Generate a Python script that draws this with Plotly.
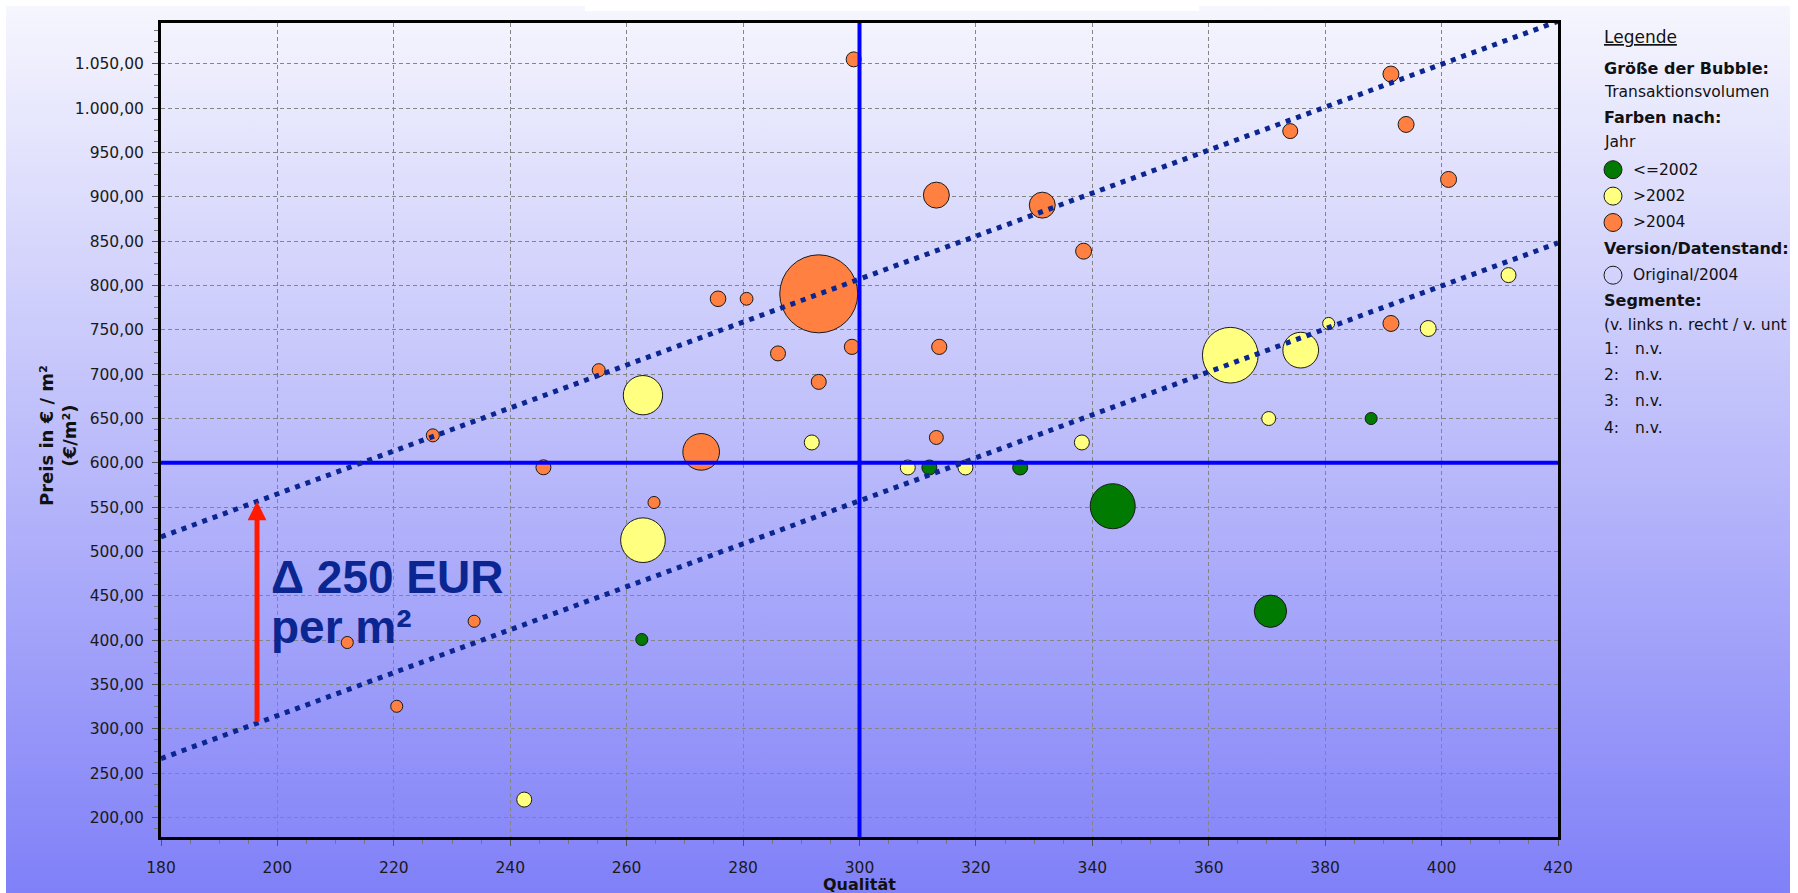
import base64
import plotly.graph_objects as go

# ---- Transaktionen: Qualität (Score), Preis (€/m²), Volumen (Mio. €) ----
# Baujahr-Klasse "<=2002"
green_q = [262.6, 312.0, 327.6, 343.5, 370.6, 387.9]
green_p = [400.8, 594.8, 594.8, 551.1, 432.7, 650.0]
green_v = [2.4, 3.7, 3.7, 33.3, 17.2, 2.4]

# Baujahr-Klasse ">2002"
yellow_q = [262.8, 262.8, 291.8, 242.4, 308.3, 318.2, 338.2, 363.7, 375.8, 380.6, 370.3, 397.7, 411.5]
yellow_p = [676.3, 512.8, 623.0, 220.3, 594.8, 594.8, 623.0, 721.4, 727.1, 757.2, 650.0, 751.5, 811.7]
yellow_v = [25.4, 32.8, 3.7, 3.7, 3.7, 3.7, 3.7, 51.0, 21.0, 2.4, 3.2, 4.2, 3.7]

# Baujahr-Klasse ">2004"
orange_q = [299.0, 226.7, 255.2, 245.7, 212.0, 233.8, 220.5, 264.7, 272.8, 275.7, 280.6, 286.0, 293.0,
            298.7, 293.0, 313.2, 313.7, 313.2, 331.4, 338.5, 374.0, 391.3, 393.9, 401.2, 391.3]
orange_p = [1055.0, 631.0, 704.5, 595.0, 397.4, 421.4, 325.5, 555.3, 612.4, 785.0, 785.0, 723.4, 691.3,
            730.8, 790.6, 901.9, 730.8, 628.6, 890.6, 838.7, 974.1, 1038.4, 981.6, 919.6, 757.2]
orange_v = [3.7, 2.8, 2.8, 3.7, 2.4, 2.4, 2.4, 2.4, 22.1, 4.0, 2.7, 3.7, 3.7,
            3.8, 100.0, 11.1, 3.8, 3.2, 11.1, 4.2, 3.7, 4.2, 4.2, 4.2, 4.2]

# Mittelwerte (Quadranten-Achsen)
mean_q = 300
mean_p = 600

# Preiskorridor: untere Grenzlinie und Abstand zur oberen Grenzlinie
corridor_q = [180, 420]
corridor_low = [266.5, 848.0]
corridor_spread = 250
arrow_q = 196.5

x_ticks = list(range(180, 421, 20))
y_ticks = list(range(200, 1051, 50))

legend_years = ["<=2002", ">2002", ">2004"]
legend_segments = ["1:", "2:", "3:", "4:"]

# ---- Layout-Geometrie ----
W, H = 1798, 893
L, R, T, B = 161, 1558, 23, 837
PW, PH = R - L, B - T


def px_x(px):
    return (px - L) / PW


def px_y(py):
    return (B - py) / PH


def low_at(q):
    (q0, q1), (p0, p1) = corridor_q, corridor_low
    return p0 + (p1 - p0) * (q - q0) / (q1 - q0)


COL_GREEN = "#007a00"
COL_YELLOW = "#ffff80"
COL_ORANGE = "#ff8040"
NAVY = "#0b2690"
FONT = "DejaVu Sans"

MAX_DIAM = 78
SIZEREF = 2.0 * max(orange_v) / MAX_DIAM ** 2

fig = go.Figure()


def add_group(q, p, v, color, name):
    order = sorted(range(len(v)), key=lambda i: -v[i])
    fig.add_trace(go.Scatter(
        x=[q[i] for i in order], y=[p[i] for i in order],
        mode="markers", name=name,
        marker=dict(size=[v[i] for i in order], sizemode="area", sizeref=SIZEREF,
                    color=color, opacity=1, line=dict(color="#1a1a1a", width=1)),
        hovertemplate="Qualität %{x}<br>Preis %{y:,.2f} €/m²<extra>" + name + "</extra>",
        showlegend=False,
    ))


add_group(green_q, green_p, green_v, COL_GREEN, legend_years[0])
add_group(yellow_q, yellow_p, yellow_v, COL_YELLOW, legend_years[1])
add_group(orange_q, orange_p, orange_v, COL_ORANGE, legend_years[2])

shapes = [
    dict(type="line", xref="x", yref="paper", x0=mean_q, x1=mean_q, y0=0, y1=1,
         line=dict(color="#0000ff", width=4), layer="above"),
    dict(type="line", xref="paper", yref="y", x0=0, x1=1, y0=mean_p, y1=mean_p,
         line=dict(color="#0000ff", width=4), layer="above"),
]
for off in (0, corridor_spread):
    shapes.append(dict(type="line", xref="x", yref="y",
                       x0=corridor_q[0], x1=corridor_q[1],
                       y0=corridor_low[0] + off, y1=corridor_low[1] + off,
                       line=dict(color=NAVY, width=5, dash="5px,6px"), layer="above"))

annotations = []

# Pfeil über den Korridor
annotations.append(dict(
    x=arrow_q, y=low_at(arrow_q) + corridor_spread, ax=arrow_q, ay=low_at(arrow_q),
    xref="x", yref="y", axref="x", ayref="y", text="", showarrow=True,
    arrowhead=2, arrowsize=0.75, arrowwidth=5, arrowcolor="#ff1a00", standoff=0,
))
annotations.append(dict(
    x=198.6, y=471, xref="x", yref="y", xanchor="left", yanchor="middle",
    text="<b>\u0394 %d EUR</b>" % corridor_spread, showarrow=False,
    font=dict(family="Liberation Sans, Arial", size=46, color=NAVY),
))
annotations.append(dict(
    x=198.6, y=414.6, xref="x", yref="y", xanchor="left", yanchor="middle",
    text="<b>per m\u00b2</b>", showarrow=False,
    font=dict(family="Liberation Sans, Arial", size=46, color=NAVY),
))

# Achsentitel
annotations.append(dict(
    x=px_x(859), y=px_y(873), xref="paper", yref="paper", xanchor="center", yanchor="top",
    text="<b>Qualität</b>", showarrow=False, font=dict(family=FONT, size=16, color="#111"),
))
annotations.append(dict(
    x=px_x(58), y=px_y(436), xref="paper", yref="paper", xanchor="center", yanchor="middle",
    text="<b>Preis in € / m²<br>(€/m²)</b>", textangle=-90, showarrow=False,
    font=dict(family=FONT, size=18, color="#111"),
))

# Legende (rechts)
LX, LX2, LC = 1602, 1631, 1613
LEG_ROWS = [36.7, 68.8, 91.7, 117.0, 142.2, 169.7, 196.1, 222.5,
            248.8, 275.2, 300.4, 324.5, 348.6, 375.0, 401.3, 427.7]


def leg_text(i, text, x=LX, size=15.5):
    annotations.append(dict(
        x=px_x(x), y=px_y(LEG_ROWS[i]), xref="paper", yref="paper", xanchor="left", yanchor="middle",
        text=text, showarrow=False, font=dict(family=FONT, size=size, color="#111"),
    ))


def leg_circle(i, fill):
    shapes.append(dict(
        type="circle", xref="paper", yref="paper", xsizemode="pixel", ysizemode="pixel",
        xanchor=px_x(LC), yanchor=px_y(LEG_ROWS[i]), x0=-9, x1=9, y0=-9, y1=9,
        fillcolor=fill, line=dict(color="#1a1a1a", width=1), layer="above",
    ))


leg_text(0, "<u>Legende</u>", size=17)
leg_text(1, "<b>Größe der Bubble:</b>", size=16)
leg_text(2, "Transaktionsvolumen")
leg_text(3, "<b>Farben nach:</b>", size=16)
leg_text(4, "Jahr")
for k, (lab, col) in enumerate(zip(legend_years, [COL_GREEN, COL_YELLOW, COL_ORANGE])):
    leg_circle(5 + k, col)
    leg_text(5 + k, lab, x=LX2)
leg_text(8, "<b>Version/Datenstand:</b>", size=16)
leg_circle(9, "rgba(0,0,0,0)")
leg_text(9, "Original/2004", x=LX2)
leg_text(10, "<b>Segmente:</b>", size=16)
leg_text(11, "(v. links n. recht / v. unt")
for k, seg in enumerate(legend_segments):
    leg_text(12 + k, seg)
    leg_text(12 + k, "n.v.", x=LX2 + 2)

# Hintergrund-Verlauf
svg = (
    '<svg xmlns="http://www.w3.org/2000/svg" width="%d" height="%d" viewBox="0 0 %d %d" '
    'preserveAspectRatio="none"><defs><linearGradient id="g" x1="0" y1="0" x2="0" y2="1">'
    '<stop offset="0" stop-color="#f6f6fe"/><stop offset="1" stop-color="#8080f8"/>'
    '</linearGradient></defs><rect width="%d" height="%d" fill="#ffffff"/>'
    '<rect x="6" y="6" width="%d" height="%d" fill="url(#g)"/>'
    '<rect x="585" y="0" width="614" height="11" fill="#ffffff"/></svg>'
) % (W, H, W, H, W, H, W - 14, H - 6)
bg_src = "data:image/svg+xml;base64," + base64.b64encode(svg.encode()).decode()

fig.update_layout(
    width=W, height=H,
    margin=dict(l=L, r=W - R, t=T, b=H - B, pad=0),
    paper_bgcolor="#ffffff", plot_bgcolor="rgba(0,0,0,0)",
    separators=",.",
    font=dict(family=FONT, size=15.5, color="#1a1a1a"),
    shapes=shapes, annotations=annotations,
    images=[dict(source=bg_src, xref="paper", yref="paper",
                 x=-L / PW, y=1 + T / PH, sizex=W / PW, sizey=H / PH,
                 xanchor="left", yanchor="top", sizing="stretch", layer="below")],
    showlegend=False,
)
fig.update_xaxes(
    range=[180, 420], tickvals=x_ticks, tickformat="d",
    showline=True, linecolor="#000000", linewidth=3, mirror=True,
    showgrid=True, gridcolor="#858585", gridwidth=1, griddash="4px,3px",
    ticks="outside", ticklen=6, tickcolor="#555", tickwidth=1, ticklabelstandoff=8,
    minor=dict(dtick=5, tick0=180, ticks="outside", ticklen=4, tickcolor="#777", showgrid=False),
    zeroline=False, tickfont=dict(family=FONT, size=15.5, color="#1a1a1a"),
)
fig.update_yaxes(
    range=[178.1, 1096], tickvals=y_ticks, tickformat=",.2f",
    showline=True, linecolor="#000000", linewidth=3, mirror=True,
    showgrid=True, gridcolor="#858585", gridwidth=1, griddash="4px,3px",
    ticks="outside", ticklen=6, tickcolor="#555", tickwidth=1, ticklabelstandoff=5,
    minor=dict(dtick=12.5, tick0=200, ticks="outside", ticklen=4, tickcolor="#777", showgrid=False),
    zeroline=False, tickfont=dict(family=FONT, size=15.5, color="#1a1a1a"),
)

fig.write_html("out.html")
